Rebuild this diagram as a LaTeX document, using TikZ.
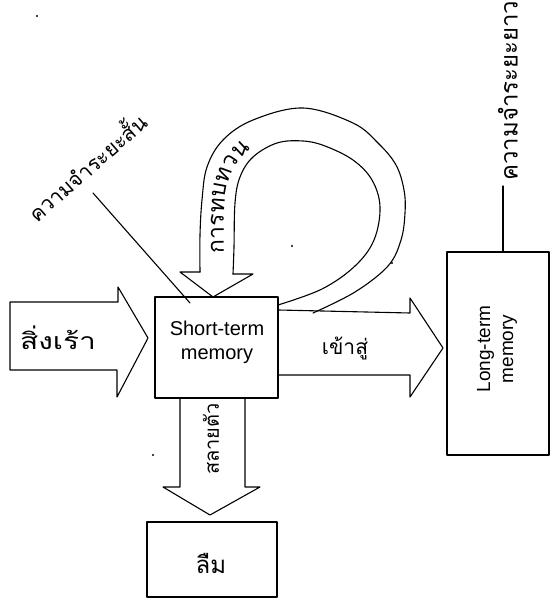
\documentclass[tikz,border=0pt]{standalone}
\usepackage{fontspec}
\setmainfont{Liberation Sans}
\newfontfamily\thaifont[Script=Thai]{Loma}
\usetikzlibrary{decorations.text}
\tikzset{
  ln/.style={line width=1.1pt, line join=round, line cap=round},
  boxnode/.style={ln, draw, inner sep=0pt},
  thlabel/.style={font=\thaifont\fontsize{24}{26}\selectfont, inner sep=0pt},
  enlabel/.style={font=\fontsize{20}{24}\selectfont, inner sep=0pt, align=center},
  dot/.style={fill=black, minimum size=2.2pt, inner sep=0pt, circle}
}
\begin{document}
\begin{tikzpicture}[x=1pt,y=-1pt]
\useasboundingbox (0,0) rectangle (551,610);
\fill[white] (0,0) rectangle (551,610);

% boxes
\node[boxnode, minimum width=123pt, minimum height=101pt] (stm) at (216.5,347.5) {};
\node[enlabel] (stmt) at (217,342) {Short-term\\memory};
\node[boxnode, minimum width=102pt, minimum height=203pt] (ltm) at (498,353.5) {};
\node[enlabel, rotate=90, font=\fontsize{19}{23}\selectfont] (ltmt) at (497,349) {Long-term\\memory};
\node[boxnode, minimum width=130pt, minimum height=75pt] (forget) at (212,559.5) {};
\node[thlabel] (forgett) at (211,563) {ลืม};

% left block arrow (stimulus)
\draw[ln] (10,302) -- (118,302) -- (118,287) -- (148,338) -- (117,397) -- (117,370) -- (10,370) -- cycle;
\node[thlabel, font=\thaifont\fontsize{23}{25}\selectfont] (stim) at (58,338) {\scalebox{1.3}[1.0]{สิ่งเร้า}};

% right block arrow (enter LTM)
\draw[ln] (stm.east |- 0,310) -- (410,313) -- (410,298) -- (443,348) -- (410,397) -- (410,375) -- (stm.east |- 0,375);
\node[thlabel, font=\thaifont\fontsize{21}{23}\selectfont] (enter) at (345,348) {เข้าสู่};

% bottom block arrow (decay)
\draw[ln] (180,398) -- (180,487) -- (163,487) -- (210,515) -- (260,487) -- (245,487) -- (245,398);
\node[thlabel, rotate=90, font=\thaifont\fontsize{20}{22}\selectfont] (decay) at (211,439) {สลายตัว};

% rehearsal loop
\draw[ln] plot[smooth, tension=0.6] coordinates {(200,272) (200,235) (202,200) (207,167) (223,140) (253,120) (303,108) (353,123) (378,143) (396,165) (404,190) (405,213) (401,240) (388,266) (355,292) (313,313)};
\draw[ln] plot[smooth, tension=0.6] coordinates {(233,274) (234,247) (235,203) (240,177) (253,157) (277,143) (303,141) (325,146) (353,160) (372,180) (380,207) (374,240) (355,266) (322,289) (278,305)};
\draw[ln] (200,272) -- (180,272) -- (213,297) -- (253,274) -- (233,274);
\path[decorate, decoration={text along path, text={|\thaifont\fontsize{23}{25}\selectfont|การทบทวน}}]
  plot[smooth, tension=0.6] coordinates {(224,253) (224,215) (227,188) (235,167) (250,150) (272,138) (300,133)};

% short-term memory label
\node[thlabel, rotate=41, font=\thaifont\fontsize{21}{23}\selectfont] (stlab) at (86,166) {ความจำระยะสั้น};
\coordinate (stlabend) at (93,193);
\coordinate (stin) at (190,303);
\draw[ln] (stlabend) -- (stin);

% long-term memory label
\node[thlabel, rotate=90, font=\thaifont\fontsize{24}{26}\selectfont, anchor=west] (ltlab) at (508,181) {ความจำระยะยาว};
\coordinate (ltlabend) at (503,186);
\draw[ln] (ltlabend) -- (ltlabend |- ltm.north);

% stray dots
\node[dot] (d1) at (37,16) {};
\node[dot] (d2) at (292,246) {};
\node[dot] (d3) at (392,263) {};
\node[dot] (d4) at (153,455) {};
\end{tikzpicture}
\end{document}
